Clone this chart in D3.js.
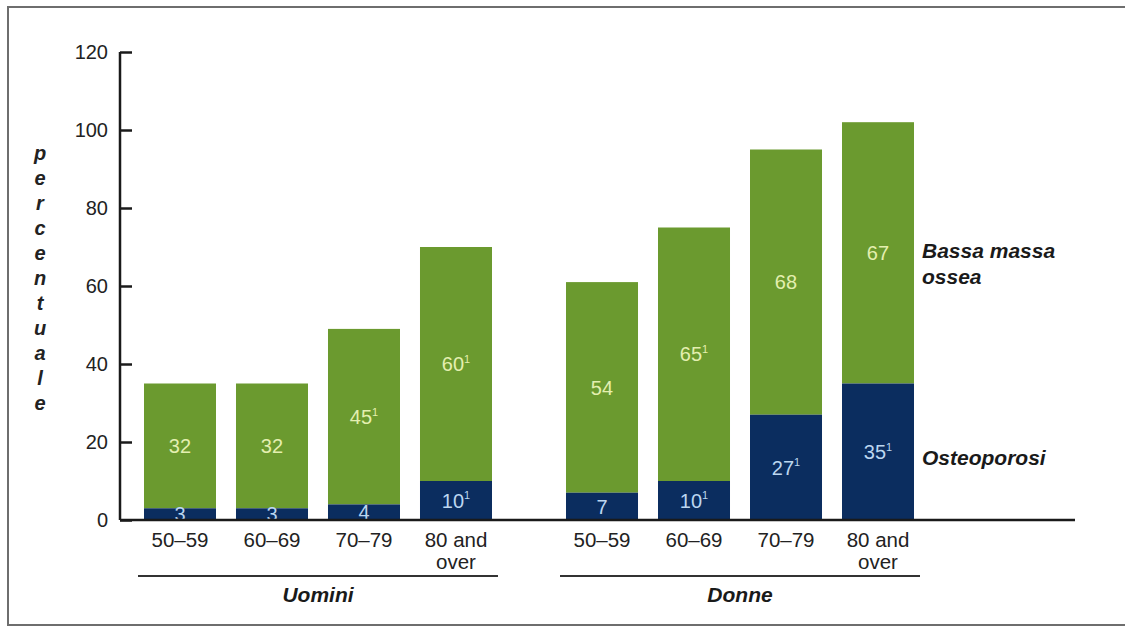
<!DOCTYPE html>
<html><head><meta charset="utf-8">
<script src="https://cdn.jsdelivr.net/npm/d3@7"></script>
<style>
html,body{margin:0;padding:0;background:#fff;}
svg{display:block;font-family:"Liberation Sans",Arial,sans-serif;}
</style></head>
<body>
<svg id="chart" width="1125" height="628"></svg>
<script>
const groups = ["Uomini", "Donne"];
const ageGroups = ["50–59", "60–69", "70–79", "80 and over"];
const osteoporosi = { "Uomini": [3, 3, 4, 10], "Donne": [7, 10, 27, 35] };
const bassaMassa  = { "Uomini": [32, 32, 45, 60], "Donne": [54, 65, 68, 67] };
const osteoSup = { "Uomini": [false, false, false, true], "Donne": [false, true, true, true] };
const bassaSup = { "Uomini": [false, false, true, true], "Donne": [false, true, false, false] };
const yTicks = [0, 20, 40, 60, 80, 100, 120];
const yLabel = "percentuale";
const legendLabels = [["Bassa massa", "ossea"], ["Osteoporosi"]];

const colGreen = "#6b9a2f", colNavy = "#0b2d5f";
const svg = d3.select("#chart");

// frame
svg.append("rect").attr("x", 8).attr("y", 7).attr("width", 1130).attr("height", 618)
  .attr("fill", "none").attr("stroke", "#6e6e6e").attr("stroke-width", 2);

const y = d3.scaleLinear().domain([0, 120]).range([520, 52]);
const x0 = d3.scaleBand().domain(groups).range([134, 924]).paddingInner(0.128).paddingOuter(0);
const x1 = d3.scaleBand().domain(ageGroups).range([0, x0.bandwidth()]).paddingInner(0.2174).paddingOuter(0.1087);

// y axis
const yAxis = d3.axisRight(y).tickValues(yTicks).tickSize(12).tickFormat("");
const ya = svg.append("g").attr("transform", "translate(120,0)").call(yAxis);
ya.select(".domain").attr("stroke", "#1a1a1a").attr("stroke-width", 2.5).attr("d", `M0,${y(120)}V${y(0)}`);
ya.selectAll(".tick line").attr("stroke", "#1a1a1a").attr("stroke-width", 2.5);
svg.append("g").selectAll("text").data(yTicks).join("text")
  .attr("x", 108).attr("y", d => y(d)).attr("dy", "0.36em")
  .attr("text-anchor", "end").attr("font-size", 20).attr("fill", "#222").text(d => d);

// y label stacked letters
svg.append("g").selectAll("text").data(yLabel.split("")).join("text")
  .attr("x", 40).attr("y", (d, i) => 153 + i * 25).attr("dy", "0.35em")
  .attr("text-anchor", "middle").attr("font-size", 20).attr("font-weight", "bold")
  .attr("font-style", "italic").attr("fill", "#222").text(d => d);

// bars
groups.forEach(g => {
  const gx = x0(g);
  const gg = svg.append("g").attr("transform", `translate(${gx},0)`);
  const data = ageGroups.map((a, i) => ({ a, o: osteoporosi[g][i], b: bassaMassa[g][i], os: osteoSup[g][i], bs: bassaSup[g][i] }));
  gg.selectAll("rect.b").data(data).join("rect").attr("class", "b")
    .attr("x", d => x1(d.a)).attr("width", x1.bandwidth())
    .attr("y", d => y(d.o + d.b)).attr("height", d => y(d.o) - y(d.o + d.b)).attr("fill", colGreen);
  gg.selectAll("rect.o").data(data).join("rect").attr("class", "o")
    .attr("x", d => x1(d.a)).attr("width", x1.bandwidth())
    .attr("y", d => y(d.o)).attr("height", d => y(0) - y(d.o)).attr("fill", colNavy);
  // labels
  const lab = (sel, val, sup, col, ypos) => {
    const t = sel.append("text").attr("x", ypos.x).attr("y", ypos.y).attr("dy", "0.36em")
      .attr("text-anchor", "middle").attr("font-size", 20).attr("fill", col);
    t.append("tspan").text(val);
    if (sup) t.append("tspan").attr("font-size", 11).attr("dy", "-0.75em").text("1");
  };
  data.forEach(d => {
    const cx = x1(d.a) + x1.bandwidth() / 2;
    lab(gg, d.b, d.bs, "#e4efb0", { x: cx, y: y(d.o + d.b / 2) });
    lab(gg, d.o, d.os, "#bcd6f0", { x: cx, y: y(d.o / 2) });
  });
  // category labels
  data.forEach(d => {
    const cx = x1(d.a) + x1.bandwidth() / 2;
    const parts = d.a === "80 and over" ? ["80 and", "over"] : [d.a];
    parts.forEach((p, k) => gg.append("text").attr("x", cx).attr("y", 540 + k * 22).attr("dy", "0.36em")
      .attr("text-anchor", "middle").attr("font-size", 20.5).attr("fill", "#222").text(p));
  });
  // group underline + label
  gg.append("line").attr("x1", 4).attr("x2", x0.bandwidth() - 4).attr("y1", 576).attr("y2", 576)
    .attr("stroke", "#333").attr("stroke-width", 2);
  gg.append("text").attr("x", x0.bandwidth() / 2).attr("y", 594).attr("dy", "0.36em")
    .attr("text-anchor", "middle").attr("font-size", 21).attr("font-weight", "bold")
    .attr("font-style", "italic").attr("fill", "#1a1a1a").text(g);
});

// x baseline
svg.append("line").attr("x1", 120).attr("x2", 1075).attr("y1", y(0)).attr("y2", y(0))
  .attr("stroke", "#1a1a1a").attr("stroke-width", 2.5);

// legend
const legY = [[250, 276], [457]];
legendLabels.forEach((lines, i) => lines.forEach((l, k) =>
  svg.append("text").attr("x", 922).attr("y", legY[i][k]).attr("dy", "0.36em")
    .attr("font-size", 21).attr("font-weight", "bold").attr("font-style", "italic")
    .attr("fill", "#1a1a1a").text(l)));
</script>
</body></html>
